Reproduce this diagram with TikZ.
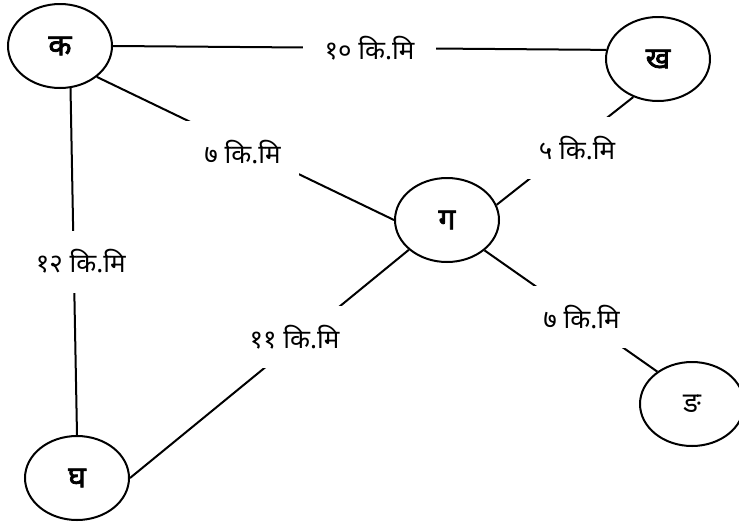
\documentclass[tikz,border=0pt]{standalone}
\usepackage{fontspec}
\newfontfamily\devfont[Script=Devanagari]{Noto Sans}
\newfontfamily\devbold[Script=Devanagari, FakeBold=2.5]{Noto Sans}
\usetikzlibrary{shapes.geometric}
\begin{document}
\begin{tikzpicture}[x=1pt, y=-1pt, line width=2pt,
  place/.style={draw, ellipse, minimum width=104pt, minimum height=84pt, inner sep=0pt, fill=white, font=\devbold\fontsize{30}{32}\selectfont},
  dist/.style={fill=white, inner xsep=18pt, minimum height=62pt, font=\devfont\fontsize{26}{28}\selectfont}]
\useasboundingbox (0, 0) rectangle (739, 523);
\node[place](ka) at (60, 46) {क};
\node[place](kha) at (658, 59) {ख};
\node[place](ga) at (447, 220) {ग};
\node[place](gha) at (77, 478) {घ};
\node[place, font=\devfont\fontsize{28}{30}\selectfont](nga) at (692, 404) {ङ};
\path
(ka.east) edge node[dist, pos=.52, inner xsep=22pt]{१० कि.मि} (kha.170)
(ka.-40) edge node[dist, pos=.49, yshift=-5pt]{७ कि.मि} (ga.west)
(ka.-76) edge node[dist, pos=.5, xshift=7pt]{१२ कि.मि} (gha.north)
(kha.237) edge node[dist, pos=.47, xshift=8pt]{५ कि.मि} (ga.17)
(ga.-39) edge node[dist, pos=.55, xshift=2pt]{७ कि.मि} (nga.137)
(ga.218) edge node[dist, pos=.41, yshift=6pt]{११ कि.मि} (gha.east);
\end{tikzpicture}
\end{document}
